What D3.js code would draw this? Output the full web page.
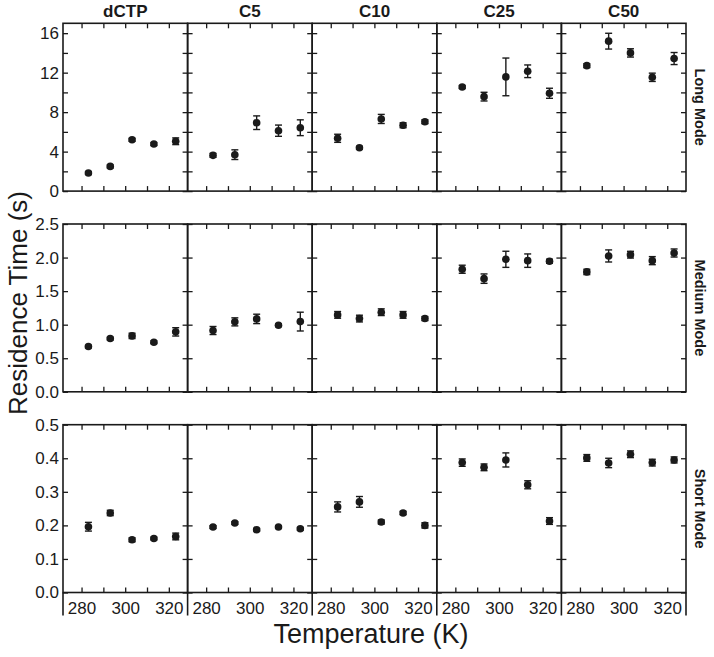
<!DOCTYPE html>
<html>
<head>
<meta charset="utf-8">
<script src="https://cdn.jsdelivr.net/npm/d3@7"></script>
<style>
  body { margin: 0; background: #fff; }
  text { font-family: "Liberation Sans", Arial, sans-serif; fill: #1a1a1a; }
</style>
</head>
<body>
<div id="chart"></div>
<script>
// temperatures (K) and panel names
var temps = [283.15, 293.15, 303.15, 313.15, 323.15];
const ligands = ["dCTP", "C5", "C10", "C25", "C50"];
const modes = ["Long Mode", "Medium Mode", "Short Mode"];
const xTicks = [280, 290, 300, 310, 320];
const xLabels = [280, 300, 320];

// long mode residence times (s), one array per panel
var longMean = [
    [1.83, 2.50, 5.20, 4.77, 5.05],
    [3.62, 3.69, 6.93, 6.12, 6.42],
    [5.35, 4.39, 7.31, 6.67, 7.03],
    [10.55, 9.57, 11.57, 12.14, 9.91],
    [12.71, 15.19, 14.00, 11.53, 13.43]
];
var longErr = [
    [0.15, 0.15, 0.15, 0.15, 0.34],
    [0.20, 0.49, 0.69, 0.57, 0.80],
    [0.41, 0.15, 0.46, 0.25, 0.20],
    [0.15, 0.44, 1.91, 0.64, 0.51],
    [0.20, 0.80, 0.42, 0.42, 0.61]
];
var mediumMean = [
    [0.674, 0.793, 0.833, 0.739, 0.893],
    [0.913, 1.042, 1.086, 0.992, 1.046],
    [1.146, 1.091, 1.186, 1.146, 1.091],
    [1.826, 1.686, 1.974, 1.954, 1.945],
    [1.786, 2.024, 2.043, 1.954, 2.068]
];
var mediumErr = [
    [0.02, 0.02, 0.04, 0.02, 0.062],
    [0.06, 0.06, 0.07, 0.02, 0.14],
    [0.05, 0.05, 0.05, 0.05, 0.03],
    [0.06, 0.07, 0.12, 0.10, 0.03],
    [0.04, 0.09, 0.05, 0.06, 0.06]
];
var shortMean = [
    [0.196, 0.237, 0.157, 0.161, 0.167],
    [0.195, 0.207, 0.187, 0.195, 0.190],
    [0.255, 0.270, 0.210, 0.237, 0.200],
    [0.387, 0.373, 0.395, 0.321, 0.213],
    [0.401, 0.386, 0.412, 0.387, 0.395]
];
var shortErr = [
    [0.013, 0.008, 0.006, 0.004, 0.010],
    [0.004, 0.004, 0.004, 0.004, 0.004],
    [0.015, 0.016, 0.006, 0.005, 0.008],
    [0.011, 0.010, 0.021, 0.012, 0.010],
    [0.010, 0.014, 0.010, 0.010, 0.009]
];

// y settings per row
const yMax = [17, 2.5, 0.5];
const yTicks = [[0, 2, 4, 6, 8, 10, 12, 14, 16], [0, 0.5, 1, 1.5, 2, 2.5], [0, 0.1, 0.2, 0.3, 0.4, 0.5]];
const yLabelTicks = [[0, 4, 8, 12, 16], [0, 0.5, 1, 1.5, 2, 2.5], [0, 0.1, 0.2, 0.3, 0.4, 0.5]];
const yFormats = [d3.format("d"), d3.format(".1f"), d3.format(".1f")];
var means = [longMean, mediumMean, shortMean];
var errs = [longErr, mediumErr, shortErr];

var width = 714, height = 657;
var left = 63, top0 = 23.3;
var panelW = 124.6, panelH = 167.8, rowGap = 32.9;
const ink = "#1a1a1a";

const svg = d3.select("#chart")
    .append("svg")
    .attr("width", width)
    .attr("height", height);

var xScale = d3.scaleLinear()
    .domain([271.5, 328.6])
    .range([0, panelW]);

for (let r = 0; r < modes.length; r++) {
    var yScale = d3.scaleLinear()
        .domain([0, yMax[r]])
        .range([panelH, 0]);
    var rowTop = top0 + r * (panelH + rowGap);

    for (let c = 0; c < ligands.length; c++) {
        var g = svg.append("g")
            .attr("transform", "translate(" + (left + c * panelW) + "," + rowTop + ")");

        // inward ticks on all four sides
        var fmt = yFormats[r];
        var labelSet = yLabelTicks[r];
        g.append("g")
            .call(d3.axisLeft(yScale).tickValues(yTicks[r]).tickSize(-5).tickPadding(4)
                .tickFormat(function(d) { return (c === 0 && labelSet.indexOf(d) >= 0) ? fmt(d) : ""; }));
        g.append("g")
            .attr("transform", "translate(" + panelW + ",0)")
            .call(d3.axisRight(yScale).tickValues(yTicks[r]).tickSize(-5).tickFormat(""));
        g.append("g")
            .call(d3.axisTop(xScale).tickValues(xTicks).tickSize(-5).tickFormat(""));
        g.append("g")
            .attr("transform", "translate(0," + panelH + ")")
            .call(d3.axisBottom(xScale).tickValues(xTicks).tickSize(-5).tickPadding(9)
                .tickFormat(function(d) { return (r === 2 && xLabels.indexOf(d) >= 0) ? d : ""; }));

        g.selectAll(".domain").remove();
        g.selectAll(".tick line").attr("stroke", ink).attr("stroke-width", 1.3);
        g.selectAll(".tick text")
            .attr("fill", ink)
            .style("font-size", "17px");

        g.append("rect")
            .attr("width", panelW)
            .attr("height", panelH)
            .attr("fill", "none")
            .attr("stroke", ink)
            .attr("stroke-width", 1.6);

        var pts = temps.map(function(t, i) {
            return {t: t, v: means[r][c][i], e: errs[r][c][i]};
        });

        // error bars
        var eb = g.selectAll(".eb")
            .data(pts)
            .enter().append("g");
        eb.append("line")
            .attr("x1", function(d) { return xScale(d.t) })
            .attr("x2", function(d) { return xScale(d.t) })
            .attr("y1", function(d) { return yScale(d.v - d.e) })
            .attr("y2", function(d) { return yScale(d.v + d.e) })
            .attr("stroke", ink)
            .attr("stroke-width", 1.4);
        [-1, 1].forEach(function(s) {
            eb.append("line")
                .attr("x1", function(d) { return xScale(d.t) - 3.5 })
                .attr("x2", function(d) { return xScale(d.t) + 3.5 })
                .attr("y1", function(d) { return yScale(d.v + s * d.e) })
                .attr("y2", function(d) { return yScale(d.v + s * d.e) })
                .attr("stroke", ink)
                .attr("stroke-width", 1.4);
        });

        g.selectAll(".dot")
            .data(pts)
            .enter().append("circle")
            .attr("cx", function(d) { return xScale(d.t) })
            .attr("cy", function(d) { return yScale(d.v) })
            .attr("r", 3.8)
            .attr("fill", ink);

        if (r === 0) {
            g.append("text")
                .attr("x", panelW / 2)
                .attr("y", -6.5)
                .style("text-anchor", "middle")
                .style("font-size", "17px")
                .style("font-weight", "bold")
                .text(ligands[c]);
        }
        if (r === 2) {
            // frame lines run down between the tick labels
            g.append("line")
                .attr("x1", 0).attr("x2", 0)
                .attr("y1", panelH).attr("y2", panelH + 23)
                .attr("stroke", ink).attr("stroke-width", 1.6);
            if (c === ligands.length - 1) {
                g.append("line")
                    .attr("x1", panelW).attr("x2", panelW)
                    .attr("y1", panelH).attr("y2", panelH + 23)
                    .attr("stroke", ink).attr("stroke-width", 1.6);
            }
        }
    }

    svg.append("text")
        .attr("transform", "translate(700," + (rowTop + panelH / 2) + ") rotate(90)")
        .attr("dy", "0.35em")
        .style("text-anchor", "middle")
        .style("font-size", "14.5px")
        .style("font-weight", "bold")
        .text(modes[r]);
}

svg.append("text")
    .attr("transform", "translate(18,303) rotate(-90)")
    .attr("dy", "0.35em")
    .style("text-anchor", "middle")
    .style("font-size", "26px")
    .text("Residence Time (s)");

svg.append("text")
    .attr("x", 371)
    .attr("y", 643)
    .style("text-anchor", "middle")
    .style("font-size", "27px")
    .text("Temperature (K)");
</script>
</body>
</html>
